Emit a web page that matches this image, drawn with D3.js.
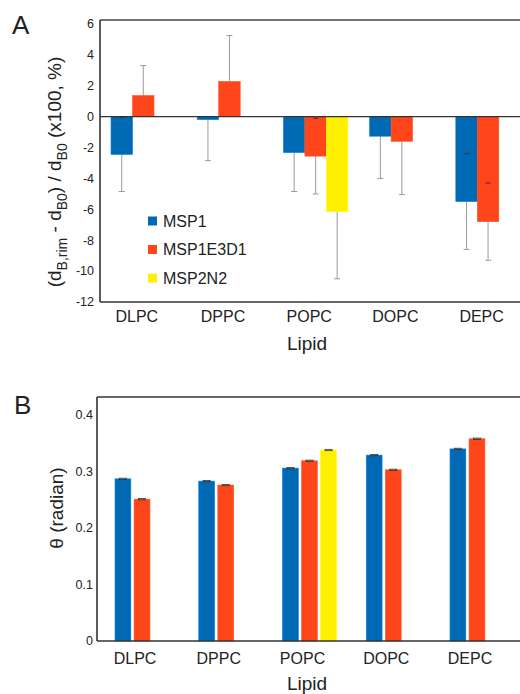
<!DOCTYPE html>
<html>
<head>
<meta charset="utf-8">
<script src="https://cdn.jsdelivr.net/npm/d3@7"></script>
<style>
  body { margin: 0; background: #fff; }
  text { font-family: "Liberation Sans", Arial, sans-serif; fill: #222; }
</style>
</head>
<body>
<div id="chart"></div>
<script>
// Two stacked grouped bar panels (A: rim thickness change, B: tilt angle)

const lipids = ["DLPC", "DPPC", "POPC", "DOPC", "DEPC"]
const series = ["MSP1", "MSP1E3D1", "MSP2N2"]
const colors = ["#0069b4", "#ff451a", "#fff000"]

// panel A, values and (symmetric) errors, null = not measured
const aMSP1 = [-2.45, -0.2, -2.33, -1.27, -5.5]
const aMSP1E3D1 = [1.36, 2.27, -2.56, -1.6, -6.8]
const aMSP2N2 = [null, null, -6.15, null, null]
const aErrMSP1 = [2.4, 2.65, 2.52, 2.73, 3.1]
const aErrMSP1E3D1 = [1.94, 2.98, 2.45, 3.45, 2.5]
const aErrMSP2N2 = [null, null, 4.35, null, null]
const aTicks = [6, 4, 2, 0, -2, -4, -6, -8, -10, -12]
// series whose inner cap shows through the bar
const innerCapSeries = ["MSP1", "MSP1E3D1"]

// panel B
const bMSP1 = [0.287, 0.283, 0.306, 0.329, 0.340]
const bMSP1E3D1 = [0.251, 0.276, 0.319, 0.303, 0.358]
const bMSP2N2 = [null, null, 0.338, null, null]
const bErr = 0.0012
const bTicks = [0, 0.1, 0.2, 0.3, 0.4]

const W = 520, H = 694

const svg = d3.select("#chart").append("svg")
  .attr("width", W).attr("height", H)

function rows(vals, errs) {
  let out = []
  series.forEach((s, si) => {
    lipids.forEach((l, li) => {
      if (vals[si][li] === null) return
      out.push({lipid: l, series: s, si: si, v: vals[si][li],
        e: errs ? errs[si][li] : bErr})
    })
  })
  return out
}

// ---------- PANEL A ----------
const A = {left: 100, top: 20, bottom: 302}
const yA = d3.scaleLinear().domain([-12, 6.25]).range([A.bottom, A.top])
const x0A = d3.scaleBand().domain(lipids).range([111, 520.3]).paddingInner(0.252)
const x1A = d3.scaleBand().domain(series).range([0, x0A.bandwidth()])

const gA = svg.append("g")
const dataA = rows([aMSP1, aMSP1E3D1, aMSP2N2], [aErrMSP1, aErrMSP1E3D1, aErrMSP2N2])

// outer error whisker (away from zero)
gA.selectAll(".errA").data(dataA).enter().append("line")
  .attr("x1", d => x0A(d.lipid) + x1A(d.series) + x1A.bandwidth() / 2)
  .attr("x2", d => x0A(d.lipid) + x1A(d.series) + x1A.bandwidth() / 2)
  .attr("y1", d => yA(d.v))
  .attr("y2", d => yA(d.v + Math.sign(d.v) * d.e))
  .attr("stroke", "#9a9a9a").attr("stroke-width", 1)
gA.selectAll(".capA").data(dataA).enter().append("line")
  .attr("x1", d => x0A(d.lipid) + x1A(d.series) + x1A.bandwidth() / 2 - 3)
  .attr("x2", d => x0A(d.lipid) + x1A(d.series) + x1A.bandwidth() / 2 + 3)
  .attr("y1", d => yA(d.v + Math.sign(d.v) * d.e))
  .attr("y2", d => yA(d.v + Math.sign(d.v) * d.e))
  .attr("stroke", "#9a9a9a").attr("stroke-width", 1)

gA.selectAll(".barA").data(dataA).enter().append("rect")
  .attr("x", d => x0A(d.lipid) + x1A(d.series))
  .attr("width", x1A.bandwidth())
  .attr("y", d => yA(Math.max(0, d.v)))
  .attr("height", d => Math.abs(yA(d.v) - yA(0)))
  .attr("fill", d => colors[d.si])
  .attr("stroke", d => d3.color(colors[d.si]).brighter(0.6))
  .attr("stroke-width", 0.6)

// inner caps visible when they fall inside the bar
gA.selectAll(".innerCapA")
  .data(dataA.filter(d => innerCapSeries.includes(d.series) && d.e < Math.abs(d.v)))
  .enter().append("line")
  .attr("x1", d => x0A(d.lipid) + x1A(d.series) + x1A.bandwidth() / 2 - 2.5)
  .attr("x2", d => x0A(d.lipid) + x1A(d.series) + x1A.bandwidth() / 2 + 2.5)
  .attr("y1", d => yA(d.v - Math.sign(d.v) * d.e))
  .attr("y2", d => yA(d.v - Math.sign(d.v) * d.e))
  .attr("stroke", "#333").attr("stroke-width", 1)

// frame lines
gA.append("line").attr("x1", A.left).attr("x2", W).attr("y1", A.top).attr("y2", A.top)
  .attr("stroke", "#444").attr("stroke-width", 1.3)
gA.append("line").attr("x1", A.left).attr("x2", W).attr("y1", yA(0)).attr("y2", yA(0))
  .attr("stroke", "#333").attr("stroke-width", 1.3)
gA.append("line").attr("x1", A.left).attr("x2", W).attr("y1", A.bottom).attr("y2", A.bottom)
  .attr("stroke", "#333").attr("stroke-width", 1.6)
gA.append("line").attr("x1", A.left).attr("x2", A.left).attr("y1", A.top).attr("y2", A.bottom)
  .attr("stroke", "#333").attr("stroke-width", 1.6)

gA.selectAll(".tickA").data(aTicks).enter().append("text")
  .attr("x", 94).attr("y", d => yA(d)).attr("dy", "0.35em")
  .attr("text-anchor", "end").style("font-size", "12.5px")
  .text(d => d)

gA.selectAll(".catA").data(lipids).enter().append("text")
  .attr("x", d => x0A(d) + x1A.step() * 1.2)
  .attr("y", 322).attr("text-anchor", "middle").style("font-size", "16px")
  .text(d => d)

gA.append("text").attr("x", 307).attr("y", 350).attr("text-anchor", "middle")
  .style("font-size", "19px").text("Lipid")

const yLabA = gA.append("text")
  .attr("transform", "translate(61,172) rotate(-90)")
  .attr("text-anchor", "middle").style("font-size", "19px")
yLabA.append("tspan").text("(d")
yLabA.append("tspan").attr("dy", 6).style("font-size", "14px").text("B,rim")
yLabA.append("tspan").attr("dy", -6).text(" - d")
yLabA.append("tspan").attr("dy", 6).style("font-size", "14px").text("B0")
yLabA.append("tspan").attr("dy", -6).text(") / d")
yLabA.append("tspan").attr("dy", 6).style("font-size", "14px").text("B0")
yLabA.append("tspan").attr("dy", -6).text(" (x100, %)")

gA.append("text").attr("x", 12).attr("y", 34).style("font-size", "26px").text("A")

// legend
const leg = gA.selectAll(".leg").data(series).enter().append("g")
  .attr("transform", (d, i) => "translate(148," + (221 + i * 28.5) + ")")
leg.append("rect").attr("x", 0).attr("y", -4.5).attr("width", 9).attr("height", 9)
  .attr("fill", (d, i) => colors[i])
leg.append("text").attr("x", 15).attr("dy", "0.36em").style("font-size", "16px")
  .text(d => d)

// ---------- PANEL B ----------
const B = {left: 97, top: 397, bottom: 641}
const yB = d3.scaleLinear().domain([0, 0.4]).range([B.bottom, 415])
const x0B = d3.scaleBand().domain(lipids).range([115, 504]).paddingInner(0.355)
const x1B = d3.scaleBand().domain(series).range([0, x0B.bandwidth()]).paddingInner(0.17)

const gB = svg.append("g")
const dataB = rows([bMSP1, bMSP1E3D1, bMSP2N2], null)

gB.selectAll(".barB").data(dataB).enter().append("rect")
  .attr("x", d => x0B(d.lipid) + x1B(d.series))
  .attr("width", x1B.bandwidth())
  .attr("y", d => yB(d.v))
  .attr("height", d => yB(0) - yB(d.v))
  .attr("fill", d => colors[d.si])
  .attr("stroke", d => d3.color(colors[d.si]).brighter(0.6))
  .attr("stroke-width", 0.6)

gB.selectAll(".errB").data(dataB).enter().append("rect")
  .attr("x", d => x0B(d.lipid) + x1B(d.series) + x1B.bandwidth() / 2 - 3.5)
  .attr("width", 7)
  .attr("y", d => yB(d.v + d.e))
  .attr("height", d => yB(d.v - d.e) - yB(d.v + d.e))
  .attr("fill", "none").attr("stroke", "#333").attr("stroke-width", 0.8)

gB.append("line").attr("x1", B.left).attr("x2", W).attr("y1", B.top).attr("y2", B.top)
  .attr("stroke", "#333").attr("stroke-width", 1.6)
gB.append("line").attr("x1", B.left).attr("x2", W).attr("y1", B.bottom).attr("y2", B.bottom)
  .attr("stroke", "#333").attr("stroke-width", 1.6)
gB.append("line").attr("x1", B.left).attr("x2", B.left).attr("y1", B.top).attr("y2", B.bottom)
  .attr("stroke", "#333").attr("stroke-width", 1.6)

gB.selectAll(".tickB").data(bTicks).enter().append("text")
  .attr("x", 93).attr("y", d => yB(d)).attr("dy", "0.35em")
  .attr("text-anchor", "end").style("font-size", "12.5px")
  .text(d => d === 0 ? "0" : d3.format(".1f")(d))

gB.selectAll(".catB").data(lipids).enter().append("text")
  .attr("x", d => x0B(d) + x1B.step() * 1.05)
  .attr("y", 664).attr("text-anchor", "middle").style("font-size", "16px")
  .text(d => d)

gB.append("text").attr("x", 307).attr("y", 690).attr("text-anchor", "middle")
  .style("font-size", "19px").text("Lipid")

gB.append("text").attr("transform", "translate(63,508) rotate(-90)")
  .attr("text-anchor", "middle").style("font-size", "19px").text("θ (radian)")

gB.append("text").attr("x", 14).attr("y", 414).style("font-size", "26px").text("B")
</script>
</body>
</html>
